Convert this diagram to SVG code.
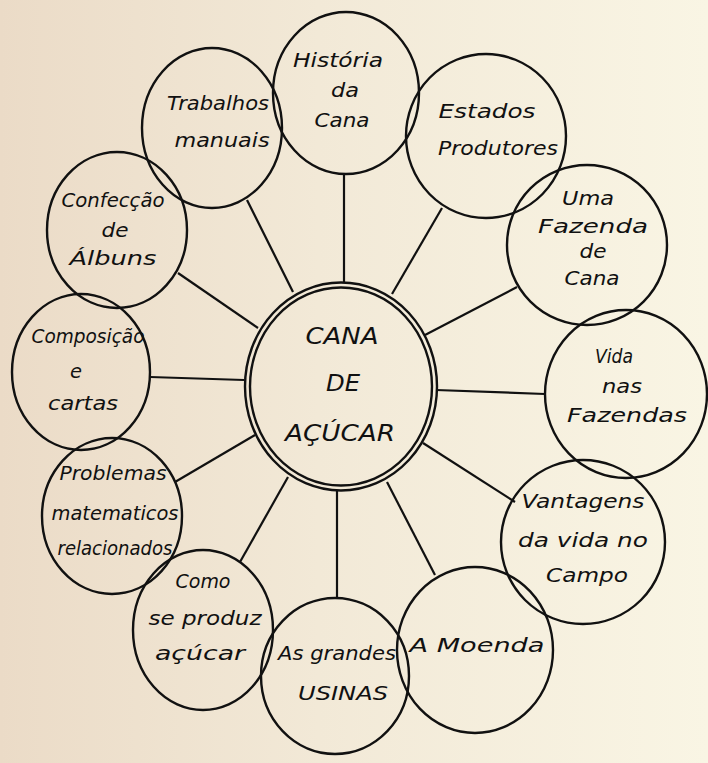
<svg xmlns="http://www.w3.org/2000/svg" width="708" height="763" viewBox="0 0 708 763">
  <defs>
    <linearGradient id="paper" x1="0" y1="0" x2="1" y2="0">
      <stop offset="0" stop-color="#ebdbc7"/>
      <stop offset="0.45" stop-color="#f2e9d7"/>
      <stop offset="1" stop-color="#f9f5e4"/>
    </linearGradient>
    <style>
      .ring { fill: none; stroke: #111; stroke-width: 2.4; }
      .link { stroke: #111; stroke-width: 2.2; fill: none; }
      .lbl { font-family: "DejaVu Sans", "Liberation Sans", sans-serif; font-style: italic; font-size: 19px; fill: #111; text-anchor: middle; }
      .hub { font-family: "DejaVu Sans", "Liberation Sans", sans-serif; font-style: italic; font-size: 23px; fill: #111; text-anchor: middle; }
    </style>
  </defs>

  <rect width="708" height="763" fill="url(#paper)"/>

  <!-- spokes from the hub to each topic -->
  <g id="connectors">
    <line class="link" x1="344" y1="175" x2="344" y2="283"/>
    <line class="link" x1="247" y1="200" x2="293" y2="292"/>
    <line class="link" x1="442" y1="208" x2="392" y2="294"/>
    <line class="link" x1="517" y1="287" x2="425" y2="335"/>
    <line class="link" x1="545" y1="394" x2="436" y2="390"/>
    <line class="link" x1="515" y1="502" x2="423" y2="443"/>
    <line class="link" x1="435" y1="575" x2="387" y2="482"/>
    <line class="link" x1="337" y1="598" x2="337" y2="490"/>
    <line class="link" x1="240" y1="562" x2="288" y2="477"/>
    <line class="link" x1="175" y1="482" x2="255" y2="435"/>
    <line class="link" x1="150" y1="377" x2="244" y2="380"/>
    <line class="link" x1="178" y1="273" x2="258" y2="328"/>
  </g>

  <!-- hub -->
  <g id="hub">
    <ellipse class="ring" cx="341" cy="386.5" rx="96" ry="104"/>
    <ellipse class="ring" cx="341" cy="386.5" rx="91" ry="99"/>
    <text class="hub" x="342" y="344" textLength="73" lengthAdjust="spacingAndGlyphs">CANA</text>
    <text class="hub" x="343" y="391" textLength="34" lengthAdjust="spacingAndGlyphs">DE</text>
    <text class="hub" x="340" y="441" textLength="110" lengthAdjust="spacingAndGlyphs">AÇÚCAR</text>
  </g>

  <g id="historia">
    <ellipse class="ring" cx="346" cy="93" rx="73" ry="81"/>
    <text class="lbl" x="338" y="67" textLength="90" lengthAdjust="spacingAndGlyphs">História</text>
    <text class="lbl" x="345" y="97" textLength="28" lengthAdjust="spacingAndGlyphs">da</text>
    <text class="lbl" x="342" y="127" textLength="55" lengthAdjust="spacingAndGlyphs">Cana</text>
  </g>

  <g id="trabalhos">
    <ellipse class="ring" cx="212" cy="128" rx="70" ry="80"/>
    <text class="lbl" x="218" y="110" textLength="102" lengthAdjust="spacingAndGlyphs">Trabalhos</text>
    <text class="lbl" x="222" y="147" textLength="95" lengthAdjust="spacingAndGlyphs">manuais</text>
  </g>

  <g id="estados">
    <ellipse class="ring" cx="486" cy="136" rx="80" ry="82"/>
    <text class="lbl" x="487" y="118" textLength="97" lengthAdjust="spacingAndGlyphs">Estados</text>
    <text class="lbl" x="498" y="155" textLength="120" lengthAdjust="spacingAndGlyphs">Produtores</text>
  </g>

  <g id="fazenda">
    <ellipse class="ring" cx="587" cy="245" rx="80" ry="80"/>
    <text class="lbl" x="588" y="205" textLength="52" lengthAdjust="spacingAndGlyphs">Uma</text>
    <text class="lbl" x="593" y="233" textLength="110" lengthAdjust="spacingAndGlyphs">Fazenda</text>
    <text class="lbl" x="593" y="258" textLength="27" lengthAdjust="spacingAndGlyphs">de</text>
    <text class="lbl" x="592" y="285" textLength="55" lengthAdjust="spacingAndGlyphs">Cana</text>
  </g>

  <g id="vida">
    <ellipse class="ring" cx="626" cy="394" rx="81" ry="84"/>
    <text class="lbl" x="614" y="363" textLength="38" lengthAdjust="spacingAndGlyphs">Vida</text>
    <text class="lbl" x="622" y="393" textLength="40" lengthAdjust="spacingAndGlyphs">nas</text>
    <text class="lbl" x="627" y="422" textLength="120" lengthAdjust="spacingAndGlyphs">Fazendas</text>
  </g>

  <g id="vantagens">
    <ellipse class="ring" cx="583" cy="542" rx="82" ry="82"/>
    <text class="lbl" x="583" y="508" textLength="123" lengthAdjust="spacingAndGlyphs">Vantagens</text>
    <text class="lbl" x="583" y="547" textLength="130" lengthAdjust="spacingAndGlyphs">da vida no</text>
    <text class="lbl" x="587" y="582" textLength="82" lengthAdjust="spacingAndGlyphs">Campo</text>
  </g>

  <g id="moenda">
    <ellipse class="ring" cx="475" cy="650" rx="78" ry="83"/>
    <text class="lbl" x="477" y="652" textLength="135" lengthAdjust="spacingAndGlyphs">A Moenda</text>
  </g>

  <g id="usinas">
    <ellipse class="ring" cx="335" cy="676" rx="74" ry="78"/>
    <text class="lbl" x="337" y="660" textLength="118" lengthAdjust="spacingAndGlyphs">As grandes</text>
    <text class="lbl" x="343" y="700" textLength="90" lengthAdjust="spacingAndGlyphs">USINAS</text>
  </g>

  <g id="como">
    <ellipse class="ring" cx="203" cy="630" rx="70" ry="80"/>
    <text class="lbl" x="203" y="588" textLength="55" lengthAdjust="spacingAndGlyphs">Como</text>
    <text class="lbl" x="205" y="625" textLength="113" lengthAdjust="spacingAndGlyphs">se produz</text>
    <text class="lbl" x="200" y="660" textLength="90" lengthAdjust="spacingAndGlyphs">açúcar</text>
  </g>

  <g id="problemas">
    <ellipse class="ring" cx="112" cy="516" rx="70" ry="78"/>
    <text class="lbl" x="113" y="480" textLength="107" lengthAdjust="spacingAndGlyphs">Problemas</text>
    <text class="lbl" x="115" y="520" textLength="127" lengthAdjust="spacingAndGlyphs">matematicos</text>
    <text class="lbl" x="115" y="555" textLength="115" lengthAdjust="spacingAndGlyphs">relacionados</text>
  </g>

  <g id="composicao">
    <ellipse class="ring" cx="81" cy="372" rx="69" ry="78"/>
    <text class="lbl" x="88" y="343" textLength="113" lengthAdjust="spacingAndGlyphs">Composição</text>
    <text class="lbl" x="76" y="378" textLength="12" lengthAdjust="spacingAndGlyphs">e</text>
    <text class="lbl" x="83" y="410" textLength="70" lengthAdjust="spacingAndGlyphs">cartas</text>
  </g>

  <g id="confeccao">
    <ellipse class="ring" cx="117" cy="230" rx="70" ry="78"/>
    <text class="lbl" x="113" y="207" textLength="103" lengthAdjust="spacingAndGlyphs">Confecção</text>
    <text class="lbl" x="115" y="237" textLength="27" lengthAdjust="spacingAndGlyphs">de</text>
    <text class="lbl" x="113" y="265" textLength="87" lengthAdjust="spacingAndGlyphs">Álbuns</text>
  </g>
</svg>
